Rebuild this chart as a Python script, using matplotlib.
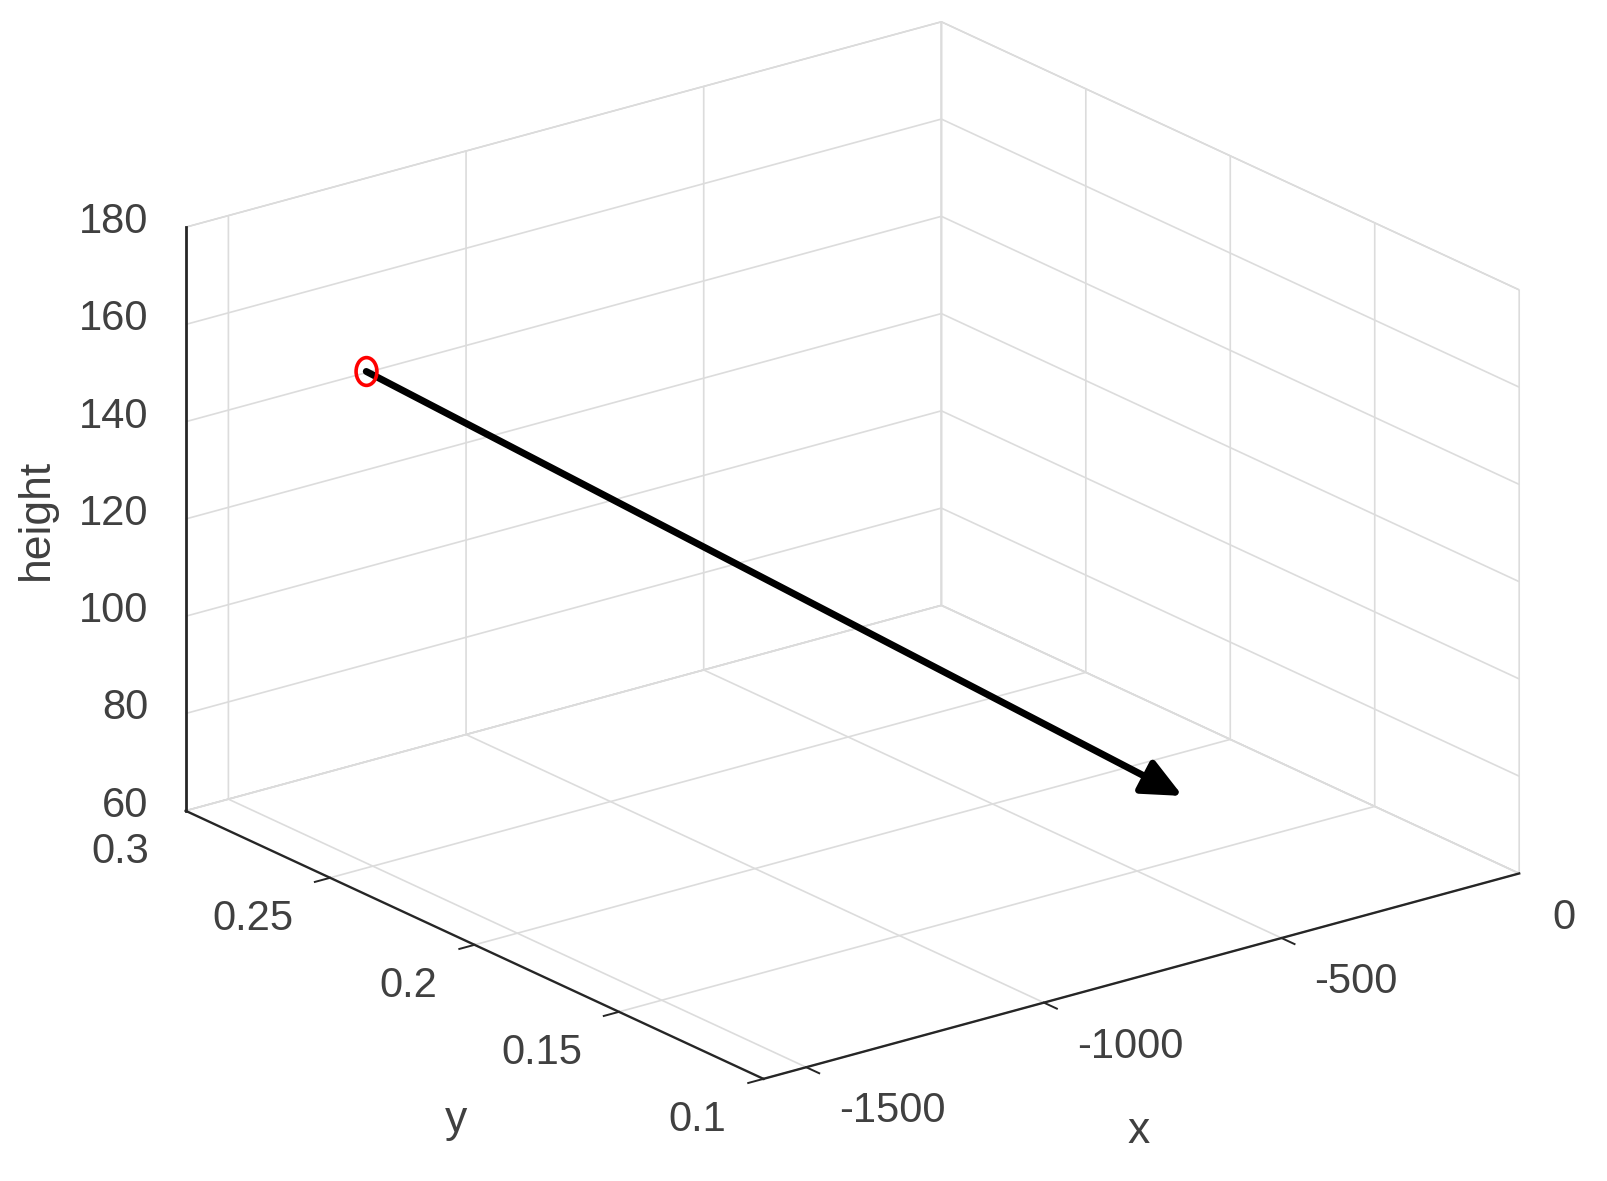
import numpy as np
import matplotlib
matplotlib.use("Agg")
import matplotlib.pyplot as plt
from matplotlib.path import Path
from matplotlib.transforms import Affine2D
from mpl_toolkits.mplot3d import proj3d

plt.rcParams['font.family'] = ['Liberation Sans', 'DejaVu Sans']
plt.rcParams['axes.unicode_minus'] = False

x_ticks = [-1500, -1000, -500, 0]
x_labels = ['-1500', '-1000', '-500', '0']
y_ticks = [0.1, 0.15, 0.2, 0.25, 0.3]
y_labels = ['0.1', '0.15', '0.2', '0.25', '0.3']
z_ticks = [60, 80, 100, 120, 140, 160, 180]
z_labels = ['60', '80', '100', '120', '140', '160', '180']
x_lim = (-1590, 0)
y_lim = (0.1, 0.3)
z_lim = (60, 180)
start_point = (-1354, 0.2763, 150.6)
end_point = (-225, 0.1795, 60)

W, H = 1607, 1181
PX = 72 / 100 * 1607 / 1568   # points per pixel of the shrunk view
fig = plt.figure(figsize=(W/100, H/100), dpi=100, facecolor='white')
ax = fig.add_axes([0.0205, 0.0205, 1, 1], projection='3d', proj_type='ortho', computed_zorder=False)
ax.view_init(elev=20.8, azim=-127.43)
ax.set_xlim(*x_lim); ax.set_ylim(*y_lim); ax.set_zlim(*z_lim)
ax.set_box_aspect((930, 929, 610), zoom=1.219)
ax.set_autoscale_on(False)
ax.set_xticks(x_ticks); ax.set_yticks(y_ticks); ax.set_zticks(z_ticks)
ax.set_xticklabels([]); ax.set_yticklabels([]); ax.set_zticklabels([])
ax.patch.set_alpha(0)
TXT = '#404040'
AX = '#262626'
for axis in (ax.xaxis, ax.yaxis, ax.zaxis):
    axis.set_pane_color((1, 1, 1, 1))
    axis.pane.set_edgecolor('#cfcfcf')
    axis.pane.set_linewidth(1.0)
    axis._axinfo['grid'].update(color='#dcdcdc', linewidth=1.2)
    axis.line.set_color(AX)
    axis.line.set_linewidth(1.7)
    axis._axinfo['tick'].update(inward_factor=0.0, outward_factor=0.0)
ax.zaxis.line.set_linewidth(2.0)
ax.grid(True)

z0_ax = z_lim[0]
# tick marks, drawn from the tick values
for xt in x_ticks:
    ax.plot([xt, xt], [y_lim[0], y_lim[0] - 0.0045], [z0_ax, z0_ax], color=AX, lw=1.4, zorder=3)
for yt in y_ticks:
    ax.plot([x_lim[0], x_lim[0] - 32], [yt, yt], [z0_ax, z0_ax], color=AX, lw=1.4, zorder=3)
for zt in z_ticks:
    ax.plot([x_lim[0], x_lim[0]], [y_lim[1], y_lim[1] + 0.007], [zt, zt], color=AX, lw=1.4, zorder=3)

M = ax.get_proj()
def label(txt, pt, dx, dy, size=30, ha='center', va='center', rotation=0):
    px, py, _ = proj3d.proj_transform(*pt, M)
    ax.annotate(txt, xy=(px, py), xycoords='data', xytext=(dx * PX, -dy * PX), textcoords='offset points',
                fontsize=size, color=TXT, ha=ha, va=va, rotation=rotation, annotation_clip=False)

for xt, s in zip(x_ticks, x_labels):
    label(s, (xt, y_lim[0], z0_ax), 32, 43, ha='left')
for yt, s in zip(y_ticks, y_labels):
    label(s, (x_lim[0], yt, z0_ax), -36, 40, ha='right')
for zt, s in zip(z_ticks, z_labels):
    label(s, (x_lim[0], y_lim[1], zt), -36, -5, ha='right')

label('x', (np.mean(x_lim), y_lim[0], z0_ax), -3, 152, size=32)
label('y', (x_lim[0], np.mean(y_lim), z0_ax), -18, 171, size=32)
label('height', (x_lim[0], y_lim[1], np.mean(z_lim)), -146, 0, size=32, rotation=90)

x0, y0, _ = proj3d.proj_transform(*start_point, M)
x1, y1, _ = proj3d.proj_transform(*end_point, M)
ax.annotate('', xy=(x1, y1), xytext=(x0, y0), xycoords='data', textcoords='data',
            arrowprops=dict(arrowstyle='-|>,head_length=2.4,head_width=1.1', color='black', lw=5,
                            shrinkA=0, shrinkB=0), annotation_clip=False, zorder=5)
ell = Path.unit_circle().transformed(Affine2D().scale(0.75, 1.0))
ax.plot([start_point[0]], [start_point[1]], [start_point[2]], marker=ell, ms=20, mfc='none',
        mec='#ff0000', mew=2.6, ls='none', zorder=6)

fig.savefig('out.png', dpi=100, facecolor='white')
